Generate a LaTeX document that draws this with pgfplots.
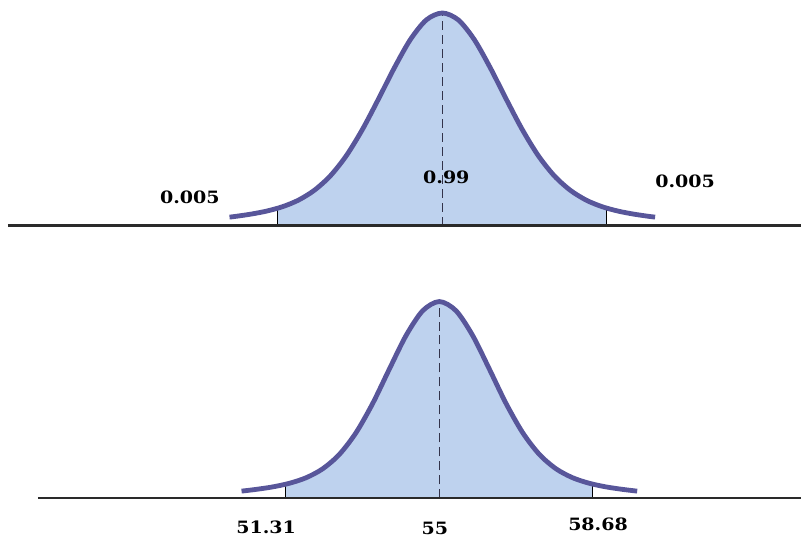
\documentclass[border=0pt]{standalone}
\usepackage{fontspec}
\setmainfont{DejaVu Serif}
\newfontfamily\lblfont[FakeStretch=1.12]{DejaVu Serif}
\usepackage{pgfplots}
\pgfplotsset{compat=1.18}
\usepgfplotslibrary{fillbetween}

\definecolor{bellline}{HTML}{58569A}
\definecolor{bellfill}{HTML}{BED2EE}
\definecolor{axisgray}{HTML}{2A2A2A}
\definecolor{dashgray}{HTML}{33334A}

\pgfplotsset{bell/.style={hide axis, clip=false, scale only axis}}
\tikzset{lbl/.style={font=\lblfont\bfseries\fontsize{17}{19}\selectfont, inner sep=0pt}}

\pgfplotstableread{
x y
-3.33 0.0161
-3.25 0.0172
-3.00 0.0216
-2.75 0.0274
-2.50 0.0357
-2.25 0.0481
-2.00 0.0668
-1.75 0.0940
-1.50 0.1320
-1.25 0.1810
-1.00 0.2380
-0.75 0.2970
-0.50 0.3500
-0.25 0.3870
0.00 0.4000
0.25 0.3870
0.50 0.3500
0.75 0.2970
1.00 0.2380
1.25 0.1810
1.50 0.1320
1.75 0.0940
2.00 0.0668
2.25 0.0481
2.50 0.0357
2.75 0.0274
3.00 0.0216
3.25 0.0172
3.33 0.0161
}\toptable

\pgfplotstableread{
x y
50.25 0.0134
50.60 0.0167
51.00 0.0214
51.40 0.0282
51.80 0.0386
52.20 0.0555
52.60 0.0826
53.00 0.1235
53.40 0.1785
53.80 0.2431
54.20 0.3061
54.60 0.3527
55.00 0.3700
55.40 0.3527
55.80 0.3061
56.20 0.2431
56.60 0.1785
57.00 0.1235
57.40 0.0826
57.80 0.0555
58.20 0.0386
58.60 0.0282
59.00 0.0214
59.40 0.0167
59.75 0.0134
}\bottable

\begin{document}
\begin{tikzpicture}

% top: standardised scale, 99% in the middle
\begin{axis}[bell, width=794.2pt, height=213pt, xmin=-6.8, xmax=5.61, ymin=0, ymax=0.40,
  at={(7.8pt,313pt)}, anchor=south west]
\addplot[draw=none, name path=ctop, smooth] table {\toptable};
\addplot[draw=none, name path=btop] coordinates {(-6.8,0) (5.61,0)};
\addplot[fill=bellfill, draw=none] fill between[of=ctop and btop, soft clip={domain=-2.576:2.576}];
\addplot[black, line width=1pt] coordinates {(-2.576,0) (-2.576,0.033)};
\addplot[black, line width=1pt] coordinates {(2.576,0) (2.576,0.033)};
\addplot[dashgray, line width=1.3pt, dash pattern=on 9pt off 5pt] coordinates {(0,0) (0,0.400)};
\addplot[axisgray, line width=2.4pt] coordinates {(-6.8,0) (5.61,0)};
\addplot[bellline, line width=4.8pt, smooth] table {\toptable};
\node[lbl] at (axis cs:-3.95,0.0535) {0.005};
\node[lbl] at (axis cs:0.0625,0.091) {0.99};
\node[lbl] at (axis cs:3.80,0.0832) {0.005};
\end{axis}

% bottom: the same curve on the data scale
\begin{axis}[bell, width=764pt, height=197pt, xmin=45.36, xmax=63.68, ymin=0, ymax=0.37,
  at={(38pt,40pt)}, anchor=south west]
\addplot[draw=none, name path=cbot, smooth] table {\bottable};
\addplot[draw=none, name path=bbot] coordinates {(45.36,0) (63.68,0)};
\addplot[fill=bellfill, draw=none] fill between[of=cbot and bbot, soft clip={domain=51.31:58.68}];
\addplot[black, line width=1pt] coordinates {(51.31,0) (51.31,0.0264)};
\addplot[black, line width=1pt] coordinates {(58.68,0) (58.68,0.0266)};
\addplot[dashgray, line width=1.3pt, dash pattern=on 9pt off 5pt] coordinates {(55,0) (55,0.370)};
\addplot[axisgray, line width=2.4pt] coordinates {(45.36,0) (63.68,0)};
\addplot[bellline, line width=4.8pt, smooth] table {\bottable};
\node[lbl] at (axis cs:50.84,-0.0554) {51.31};
\node[lbl] at (axis cs:54.89,-0.0563) {55};
\node[lbl] at (axis cs:58.81,-0.0488) {58.68};
\end{axis}

% page frame, same proportions as the reference
\path (0,0) rectangle (802pt,539pt);
\end{tikzpicture}
\end{document}
